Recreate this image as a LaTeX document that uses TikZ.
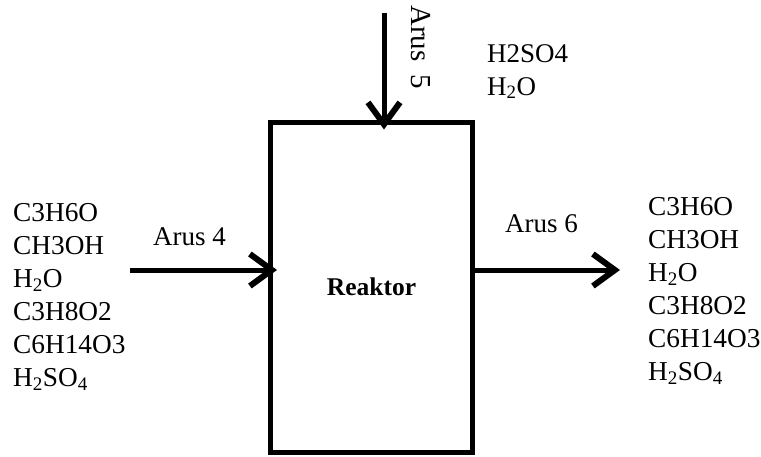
\documentclass[tikz,border=0pt]{standalone}
\usepackage{fontspec}
\setmainfont{Liberation Serif}
\usetikzlibrary{arrows.meta}
\begin{document}
\begin{tikzpicture}[x=1pt,y=-1pt,
  lbl/.style={font=\fontsize{27}{33}\selectfont, inner sep=0pt, anchor=base west},
  lst/.style={lbl, font=\fontsize{27.3}{33}\selectfont},
  flow/.style={line width=5pt, -{Straight Barb[length=22pt,width=32pt,line width=6pt]}},
  boxstyle/.style={draw, line width=5pt, minimum width=202pt, minimum height=330.5pt,
    inner sep=0pt, font=\bfseries\fontsize{25.5}{30}\selectfont}
]
\useasboundingbox (0,0) rectangle (761,456);
\node[boxstyle] (reak) at (371.5,287.25) {Reaktor};

% left list
\foreach \t [count=\i from 0] in {C3H6O, CH3OH, H\textsubscript{2}O, C3H8O2, C6H14O3, H\textsubscript{2}SO\textsubscript{4}}
  \node[lst] (L\i) at (13,221+33*\i) {\t};
% right list
\foreach \t [count=\i from 0] in {C3H6O, CH3OH, H\textsubscript{2}O, C3H8O2, C6H14O3, H\textsubscript{2}SO\textsubscript{4}}
  \node[lst] (R\i) at (648,215+33*\i) {\t};
% top list
\node[lbl] (T0) at (487,62) {H2SO4};
\node[lbl] (T1) at (487,95) {H\textsubscript{2}O};

% stream labels
\node[lbl] (a4) at (153,245) {Arus 4};
\node[lbl] (a6) at (505,232) {Arus 6};
\node[lbl, font=\fontsize{29}{33}\selectfont, rotate=-90] (a5) at (411,5) {Arus\hspace{0.45em}5};

% arrows
\coordinate (s5) at (384,13);
\coordinate (s4) at (130,270);
\coordinate (e6) at (620,270);
\draw[flow, shorten >=-10pt] (s5) -- (s5 |- reak.north);
\draw[flow, shorten >=-9pt] (s4) -- (s4 -| reak.west);
\draw[flow] (reak.east |- e6) -- (e6);
\end{tikzpicture}
\end{document}
